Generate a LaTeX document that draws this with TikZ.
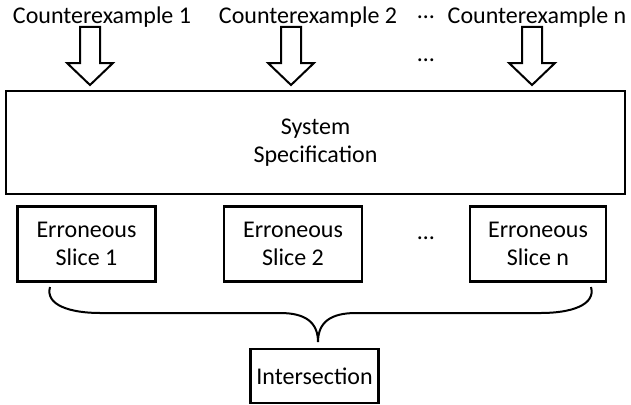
\documentclass[tikz,border=0pt]{standalone}
\usepackage{fontspec}
\setmainfont{Carlito}
\usetikzlibrary{positioning}

\begin{document}
\begin{tikzpicture}[x=1pt, y=-1pt, line join=miter,
    every node/.style={font=\fontsize{24}{28.5}\selectfont},
    lbl/.style={inner sep=0pt},
    box/.style={draw, line width=2.2pt, inner sep=0pt, align=center},
    blockarrow/.style={draw, line width=2pt, fill=white}]
    \useasboundingbox (0,0) rectangle (631,404);

    % Counterexamples on top
    \node[lbl] (ce1) at (102,17) {Counterexample 1};
    \node[lbl] (ce2) at (308,17) {Counterexample 2};
    \node[lbl] (dotstop) at (426,17) {…};
    \node[lbl] (cen) at (537,17) {Counterexample n};
    \node[lbl] (dotsmid) at (426,60) {…};

    % Hollow block arrows
    \foreach \x in {90,291,532}{
        \draw[blockarrow] ({\x-10},27) -- ({\x+10},27) -- ({\x+10},63) -- ({\x+23},63)
            -- (\x,85) -- ({\x-23},63) -- ({\x-10},63) -- cycle;
    }

    % Specification
    \node[box, minimum width=619, minimum height=103] (spec) at (315.5,142.5) {System\\Specification};

    % Slices
    \node[box, minimum width=138, minimum height=75] (s1) at (86.5,244) {Erroneous\\Slice 1};
    \node[box, minimum width=138, minimum height=75] (s2) at (293,244) {Erroneous\\Slice 2};
    \node[lbl] (dotsslice) at (426,238) {…};
    \node[box, minimum width=136, minimum height=75] (sn) at (538,244) {Erroneous\\Slice n};

    % Brace and intersection
    \node[box, minimum width=128, minimum height=54] (inter) at (314.5,376) {Intersection};
    \coordinate (bl) at (50,287);
    \coordinate (br) at (591,287);
    \coordinate (tip) at (318,342);
    \draw[line width=2pt] (bl) .. controls (45,305) and (70,313) .. (100,313) -- (280,313)
        .. controls (305,313) and (318,322) .. (tip)
        .. controls (318,322) and (331,313) .. (356,313) -- (541,313)
        .. controls (571,313) and (596,305) .. (br);

\end{tikzpicture}
\end{document}
